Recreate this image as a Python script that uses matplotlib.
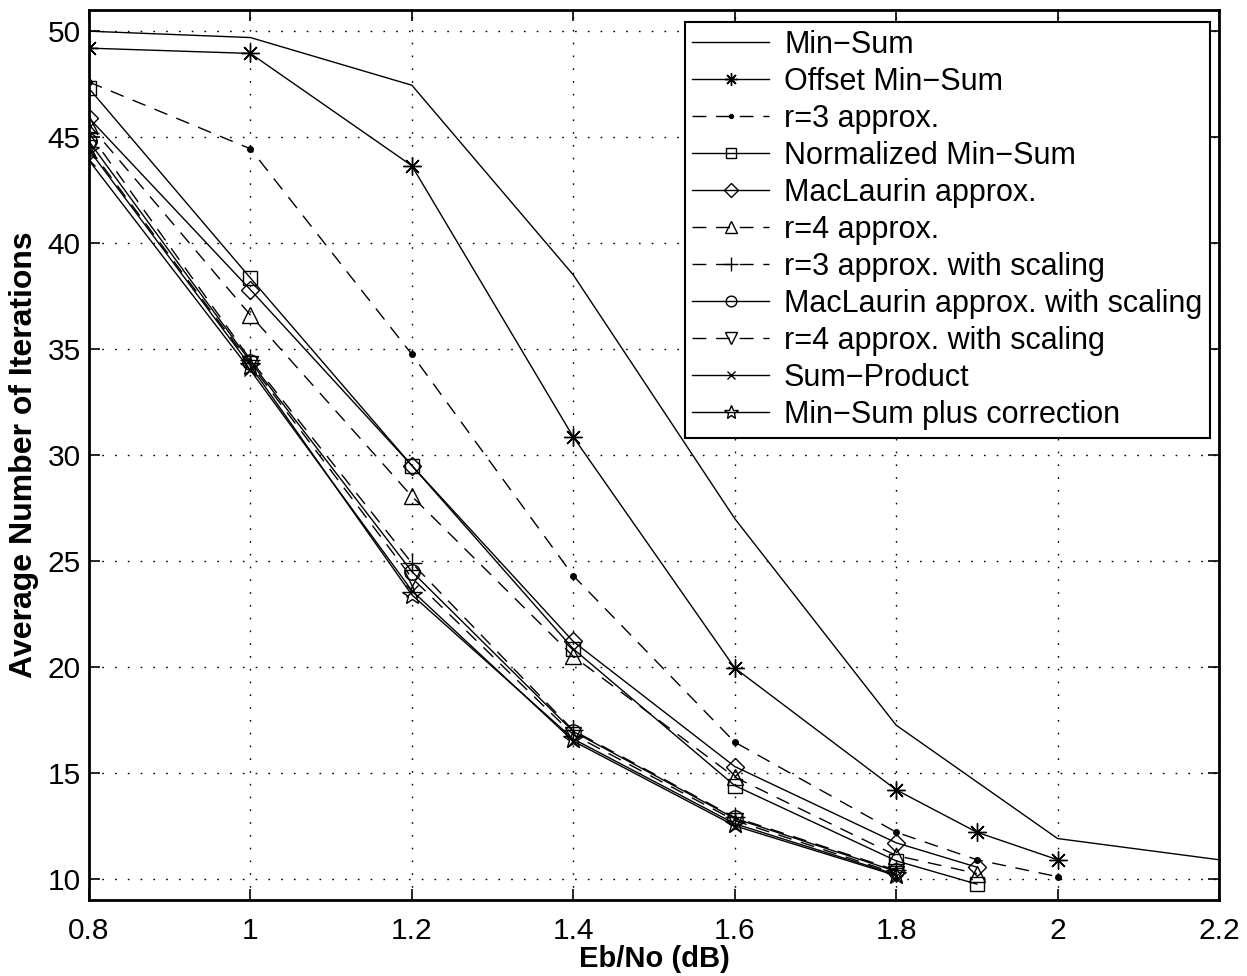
import matplotlib
matplotlib.use('Agg')
import matplotlib.pyplot as plt

plt.rcParams['font.family'] = ['Liberation Sans', 'DejaVu Sans']

# ---- data ----
x_minsum = [0.8, 1.0, 1.2, 1.4, 1.6, 1.8, 2.0, 2.2]
min_sum = [50.0, 49.7, 47.45, 38.5, 27.0, 17.25, 11.9, 10.9]

x_long = [0.8, 1.0, 1.2, 1.4, 1.6, 1.8, 1.9, 2.0]
offset_min_sum = [49.2, 48.95, 43.65, 30.85, 19.95, 14.2, 12.2, 10.9]
r3_approx = [47.6, 44.45, 34.75, 24.3, 16.45, 12.2, 10.9, 10.1]

x_mid = [0.8, 1.0, 1.2, 1.4, 1.6, 1.8, 1.9]
normalized = [47.3, 38.35, 29.5, 20.85, 14.4, 10.85, 9.75]
maclaurin = [45.9, 37.8, 29.5, 21.2, 15.3, 11.7, 10.55]
r4_approx = [45.6, 36.6, 28.05, 20.5, 14.8, 11.1, 10.25]

x_short = [0.8, 1.0, 1.2, 1.4, 1.6, 1.8]
r3_scaling = [45.2, 34.5, 24.9, 17.0, 12.9, 10.4]
maclaurin_scaling = [44.8, 34.4, 24.5, 16.95, 12.85, 10.35]
r4_scaling = [44.5, 34.3, 24.2, 16.8, 12.75, 10.25]
sum_product = [43.9, 34.0, 23.6, 16.5, 12.5, 10.15]
ms_correction = [44.4, 34.2, 23.4, 16.6, 12.6, 10.2]

labels = ['Min\u2212Sum', 'Offset Min\u2212Sum', 'r=3 approx.', 'Normalized Min\u2212Sum',
          'MacLaurin approx.', 'r=4 approx.', 'r=3 approx. with scaling',
          'MacLaurin approx. with scaling', 'r=4 approx. with scaling',
          'Sum\u2212Product', 'Min\u2212Sum plus correction']
x_ticks = [0.8, 1.0, 1.2, 1.4, 1.6, 1.8, 2.0, 2.2]
x_ticklabels = ['0.8', '1', '1.2', '1.4', '1.6', '1.8', '2', '2.2']
y_ticks = [10, 15, 20, 25, 30, 35, 40, 45, 50]

# ---- plot ----
fig = plt.figure(figsize=(12.47, 9.76), dpi=100)
ax = fig.add_axes([89/1247, 76/976, (1219-89)/1247, (900-10)/976])

lw = 1.0
dash = (10, 7)
common = dict(color='black', lw=lw, mfc='none', mec='black', mew=1.0)

series = [
    (x_minsum, min_sum, dict(marker='None', ls='-')),
    (x_long, offset_min_sum, dict(marker=(8, 2, 0), ms=13, ls='-')),
    (x_long, r3_approx, dict(marker='o', ms=4, mfc='black', ls='--')),
    (x_mid, normalized, dict(marker='s', ms=10, ls='-')),
    (x_mid, maclaurin, dict(marker='D', ms=9.5, ls='-')),
    (x_mid, r4_approx, dict(marker='^', ms=12, ls='--')),
    (x_short, r3_scaling, dict(marker='+', ms=14, ls='--')),
    (x_short, maclaurin_scaling, dict(marker='o', ms=11, ls='-')),
    (x_short, r4_scaling, dict(marker='v', ms=12, ls='--')),
    (x_short, sum_product, dict(marker='x', ms=9, ls='-')),
    (x_short, ms_correction, dict(marker='*', ms=15, ls='-')),
]

for (xs, ys, st), lab in zip(series, labels):
    kw = dict(common)
    kw.update(st)
    line, = ax.plot(xs, ys, label=lab, **kw)
    if kw['ls'] == '--':
        line.set_dashes(dash)

ax.set_xlim(0.8, 2.2)
ax.set_ylim(9, 51)
ax.set_xticks(x_ticks)
ax.set_xticklabels(x_ticklabels)
ax.set_yticks(y_ticks)
ax.grid(True, color='black', linestyle=(0, (1.2, 8)), linewidth=1.0)
ax.tick_params(direction='in', length=8, width=1.2, top=True, right=True,
               labelsize=21.5, colors='black')
ax.tick_params(axis='x', pad=12)
ax.tick_params(axis='y', pad=6)
for s in ax.spines.values():
    s.set_linewidth(2.0)
    s.set_color('black')

ax.set_xlabel('Eb/No (dB)', fontsize=21, fontweight='bold', labelpad=0)
ax.set_ylabel('Average Number of Iterations', fontsize=23, fontweight='bold', labelpad=6)

leg = ax.legend(loc='upper right', bbox_to_anchor=(0.992, 0.9865), fontsize=22,
                frameon=True, fancybox=False,
                handlelength=2.5, handletextpad=0.5, labelspacing=0.23,
                borderaxespad=0.0, borderpad=0.25, framealpha=1.0, markerscale=0.7)
leg.get_frame().set_edgecolor('black')
leg.get_frame().set_linewidth(1.5)

fig.savefig('out.png', dpi=100, facecolor='white')
